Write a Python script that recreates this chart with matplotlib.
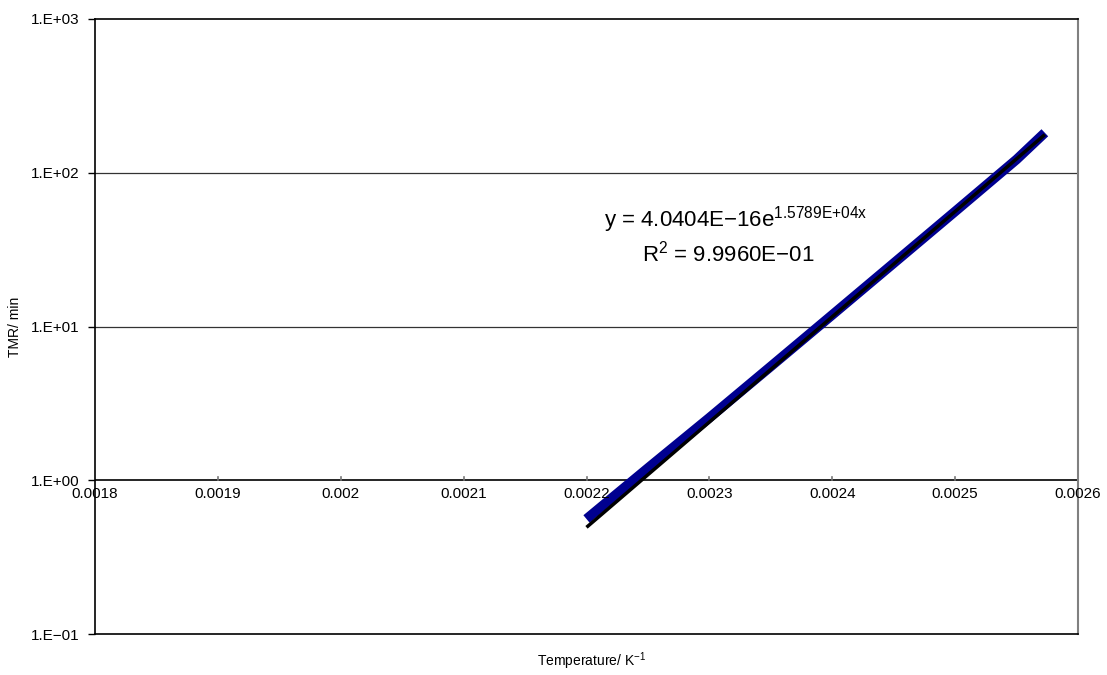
import matplotlib
matplotlib.use("Agg")
import matplotlib.pyplot as plt
from matplotlib.ticker import FixedLocator, NullLocator

plt.rcParams['font.family'] = ['Liberation Sans', 'DejaVu Sans']
plt.rcParams['mathtext.fontset'] = 'custom'
plt.rcParams['mathtext.rm'] = 'Liberation Sans'
plt.rcParams['mathtext.it'] = 'Liberation Sans'
plt.rcParams['mathtext.default'] = 'regular'

# data
inv_temp = [0.00220, 0.00225, 0.00230, 0.00235, 0.00240, 0.00245, 0.00250, 0.00255, 0.002573]
tmr_min = [0.56, 1.2, 2.55, 5.5, 11.9, 25.8, 56.0, 122.0, 182.0]

trend_x = [0.00220, 0.002573]
trend_y = [0.494, 177.0]

x_ticks = [0.0018, 0.0019, 0.0020, 0.0021, 0.0022, 0.0023, 0.0024, 0.0025, 0.0026]
x_tick_labels = ['0.0018', '0.0019', '0.002', '0.0021', '0.0022', '0.0023', '0.0024', '0.0025', '0.0026']
y_ticks = [0.1, 1, 10, 100, 1000]
y_tick_labels = ['1.E\u221201', '1.E+00', '1.E+01', '1.E+02', '1.E+03']

fig = plt.figure(figsize=(11.07, 6.75), dpi=100)
ax = fig.add_axes([95/1107, 1 - 634/675, (1078-95)/1107, (634-19)/675])

ax.set_yscale('log')
ax.set_xlim(0.0018, 0.0026)
ax.set_ylim(0.1, 1000)

# gridlines
for gy in [10, 100]:
    ax.axhline(gy, color='#333333', lw=0.9, zorder=1)

ax.plot(inv_temp, tmr_min, color='#000090', lw=7, solid_capstyle='butt', zorder=3)
ax.plot(trend_x, trend_y, color='black', lw=2.5, solid_capstyle='butt', zorder=4)

# x axis crossing at y=1
ax.axhline(1, color='black', lw=1.2, zorder=2)
for xt in x_ticks[1:-1]:
    ax.plot([xt, xt], [1, 1.045], color='#777777', lw=1.2, zorder=2)

ax.xaxis.set_major_locator(NullLocator())
ax.xaxis.set_minor_locator(NullLocator())
for xt, lab in zip(x_ticks, x_tick_labels):
    ax.annotate(lab, xy=(xt, 1), xycoords='data', xytext=(0, -5), textcoords='offset points',
                ha='center', va='top', fontsize=11)

ax.yaxis.set_major_locator(FixedLocator(y_ticks))
ax.yaxis.set_minor_locator(NullLocator())
ax.set_yticklabels(y_tick_labels, fontsize=11)
ax.tick_params(axis='y', direction='out', length=5, width=1, pad=6)

for side in ['left', 'top', 'bottom']:
    ax.spines[side].set_color('black')
    ax.spines[side].set_linewidth(1.2)
ax.spines['right'].set_color('#808080')
ax.spines['right'].set_linewidth(1.5)

ax.set_ylabel('TMR/ min', fontsize=10)
ax.yaxis.set_label_coords(-0.074, 0.5)
fig.text(592/1107, 1 - 661/675, 'Temperature/ K$^{\u22121}$', ha='center', va='center', fontsize=10)

ax.text(0.518, 0.662, 'y = 4.0404E\u221216e$^{1.5789E{+}04x}$', transform=ax.transAxes,
        fontsize=16, ha='left', va='baseline')
ax.text(0.556, 0.605, 'R$^{2}$ = 9.9960E\u221201', transform=ax.transAxes,
        fontsize=16, ha='left', va='baseline')

fig.savefig('out.png', dpi=100)
